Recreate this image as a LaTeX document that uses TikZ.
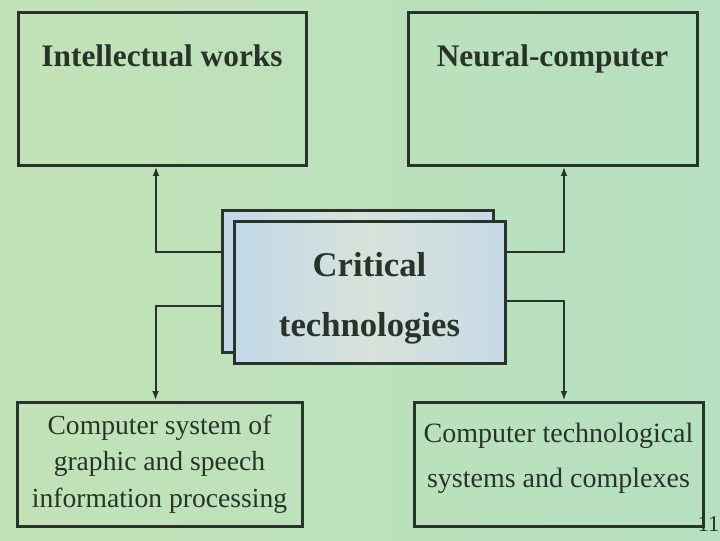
\documentclass[tikz,border=0pt]{standalone}
\usepackage{fontspec}
\setmainfont{Liberation Serif}
\usetikzlibrary{arrows.meta,positioning}

\tikzset{every picture/.style={line width=0.75pt}}
\definecolor{inkline}{RGB}{40,51,42}
\definecolor{bgleft}{RGB}{194,226,182}
\definecolor{bgright}{RGB}{182,224,192}
\definecolor{techblue}{RGB}{194,216,232}
\definecolor{techmid}{RGB}{216,226,218}
\tikzset{
  box/.style={draw=inkline, line width=2.25pt, rectangle, inner sep=0pt},
  techbox/.style={box, minimum width=203.25pt, minimum height=106.5pt,
    left color=techblue, right color=techblue!80!techmid, middle color=techmid},
  link/.style={draw=inkline, line width=1.5pt, -{Latex[length=7pt,width=5pt]}},
  titletext/.style={font=\fontsize{23.5}{28}\selectfont\bfseries, text=inkline},
  bodytext/.style={align=center, text=inkline},
}

\begin{document}
\begin{tikzpicture}[x=0.75pt,y=0.75pt,yscale=-1,xscale=1]
\useasboundingbox (0,0) rectangle (720,540);

%Shape: Background
\fill [left color=bgleft, right color=bgright] (0,0) rectangle (720,540);

%Shape: Rectangle
\node [box, minimum width=216pt, minimum height=114.75pt,
  label={[titletext, anchor=base, yshift=-41.8pt]north:Intellectual works}] (works) at (162,88.5) {};
%Shape: Rectangle
\node [box, minimum width=216.75pt, minimum height=114.75pt,
  label={[titletext, anchor=base, yshift=-41.8pt]north:Neural-computer}] (neural) at (552.5,88.5) {};

%Shape: Rectangle
\node [techbox] (techback) at (357.5,281) {};
%Shape: Rectangle
\node [techbox, label={[bodytext, yshift=-4.5pt,
  font=\fontsize{26}{45}\selectfont\bfseries]center:Critical\\technologies}] (tech) at (369.5,292.5) {};

%Shape: Rectangle
\node [box, minimum width=213.75pt, minimum height=93pt, bodytext,
  font=\fontsize{20.7}{27.4}\selectfont] (speech) at (159.5,464)
  {Computer system of\\graphic and speech\\information processing};
%Shape: Rectangle
\node [box, minimum width=216.75pt, minimum height=93pt, label={[bodytext, yshift=4.5pt,
  font=\fontsize{21}{33.75}\selectfont]center:Computer technological\\systems and complexes}] (complex) at (558.5,464) {};

%Straight Lines
\draw [link] ([yshift=-21.75pt]techback.west) -| ([xshift=-4.5pt]works.south);
%Straight Lines
\draw [link] ([yshift=18.75pt]techback.west) -| ([xshift=-3pt]speech.north);
%Straight Lines
\draw [link] ([yshift=-30.4pt]tech.east) -| ([xshift=8.6pt]neural.south);
%Straight Lines
\draw [link] ([yshift=6.4pt]tech.east) -| ([xshift=4.1pt]complex.north);

% Text Node
\node [anchor=base west, inner sep=0pt, text=inkline, font=\fontsize{17}{20}\selectfont] (pagenum) at (697,531) {11};

\end{tikzpicture}
\end{document}
